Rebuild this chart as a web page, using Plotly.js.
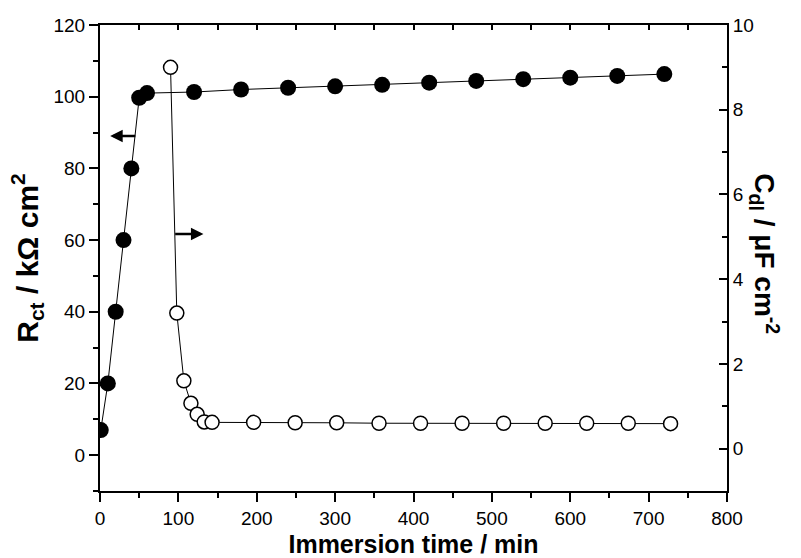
<!DOCTYPE html>
<html>
<head>
<meta charset="utf-8">
<script src="https://cdn.plot.ly/plotly-3.0.1.min.js"></script>
<style>
  html, body { margin: 0; padding: 0; background: #fff; }
  #chart { width: 801px; height: 558px; }
</style>
</head>
<body>
<div id="chart"></div>
<script>
// Charge-transfer resistance (left axis) vs immersion time
const rctTime = [1, 10, 20, 30, 40, 50, 60, 120, 180, 240, 300, 360, 420, 480, 540, 600, 660, 720];
const rctValues = [7, 20, 40, 60, 80, 99.7, 101, 101.3, 102, 102.5, 102.9, 103.3, 103.9, 104.4, 104.9, 105.3, 105.8, 106.3];

// Double-layer capacitance (right axis) vs immersion time
const cdlTime = [90, 98, 107, 116, 124, 133, 143, 196, 249, 302, 356, 409, 462, 515, 568, 621, 674, 728];
const cdlValues = [9.0, 3.2, 1.6, 1.07, 0.81, 0.63, 0.62, 0.62, 0.61, 0.61, 0.6, 0.6, 0.6, 0.6, 0.6, 0.6, 0.6, 0.59];

const FONT = 'Liberation Sans, Arial, sans-serif';

const traces = [
  {
    x: rctTime, y: rctValues, type: 'scatter', mode: 'lines+markers',
    xaxis: 'x', yaxis: 'y',
    line: { color: '#000', width: 1 },
    marker: { symbol: 'circle', size: 16, color: '#000' },
    showlegend: false, hoverinfo: 'x+y'
  },
  {
    x: cdlTime, y: cdlValues, type: 'scatter', mode: 'lines+markers',
    xaxis: 'x', yaxis: 'y2',
    line: { color: '#000', width: 1 },
    marker: { symbol: 'circle', size: 14, color: '#fff', line: { color: '#000', width: 1.5 } },
    showlegend: false, hoverinfo: 'x+y'
  }
];

const axisCommon = {
  showline: true, linecolor: '#000', linewidth: 2,
  showgrid: false, zeroline: false,
  tickcolor: '#000', tickwidth: 2,
  tickfont: { family: FONT, size: 19, color: '#000' }
};

const layout = {
  width: 801, height: 558,
  margin: { l: 100, r: 74, t: 25, b: 67, pad: 0 },
  paper_bgcolor: '#fff', plot_bgcolor: '#fff',
  showlegend: false,
  xaxis: Object.assign({}, axisCommon, {
    range: [0, 800], dtick: 100, tick0: 0,
    ticks: 'outside', ticklen: 9,
    minor: { dtick: 50, ticks: 'outside', ticklen: 5, tickwidth: 2, tickcolor: '#000' },
    title: { text: '<b>Immersion time / min</b>', font: { family: FONT, size: 25, color: '#000' }, standoff: 10 }
  }),
  xaxis2: Object.assign({}, axisCommon, {
    overlaying: 'x', side: 'top', anchor: 'y',
    range: [0, 800], dtick: 50, tick0: 0,
    ticks: 'inside', ticklen: 5, showticklabels: false
  }),
  yaxis: Object.assign({}, axisCommon, {
    range: [-10, 120], dtick: 20, tick0: 0,
    ticks: 'outside', ticklen: 9,
    minor: { dtick: 10, ticks: 'outside', ticklen: 5, tickwidth: 2, tickcolor: '#000' },
    title: { text: '<b>R<sub>ct</sub> / kΩ cm<sup>2</sup></b>', font: { family: FONT, size: 30, color: '#000' }, standoff: 6 }
  }),
  yaxis2: Object.assign({}, axisCommon, {
    overlaying: 'y', side: 'right', anchor: 'x',
    range: [-1, 10], dtick: 2, tick0: 0,
    ticks: 'inside', ticklen: 8,
    minor: { dtick: 1, ticks: 'inside', ticklen: 5, tickwidth: 2, tickcolor: '#000' }
  }),
  annotations: [
    {
      // right axis title, reading top to bottom
      xref: 'paper', yref: 'paper', x: 1, y: 0.51, xshift: 59,
      text: '<b>C<sub>dl</sub> / μF cm<sup>-2</sup></b>', textangle: 90,
      showarrow: false, font: { family: FONT, size: 28, color: '#000' }
    },
    {
      // arrow pointing to the left axis (R_ct series)
      xref: 'x', yref: 'y', axref: 'x', ayref: 'y',
      x: 13, y: 89, ax: 47, ay: 89, text: '',
      showarrow: true, arrowhead: 2, arrowsize: 1, arrowwidth: 2.5, arrowcolor: '#000'
    },
    {
      // arrow pointing to the right axis (C_dl series)
      xref: 'x', yref: 'y', axref: 'x', ayref: 'y',
      x: 132, y: 61.7, ax: 94, ay: 61.7, text: '',
      showarrow: true, arrowhead: 2, arrowsize: 1, arrowwidth: 2.5, arrowcolor: '#000'
    }
  ]
};

// an invisible point on the top axis so that axis is drawn
traces.push({ x: [0], y: [0], xaxis: 'x2', yaxis: 'y', mode: 'markers', marker: { opacity: 0 }, showlegend: false, hoverinfo: 'skip' });

Plotly.newPlot('chart', traces, layout, { staticPlot: true });
</script>
</body>
</html>
